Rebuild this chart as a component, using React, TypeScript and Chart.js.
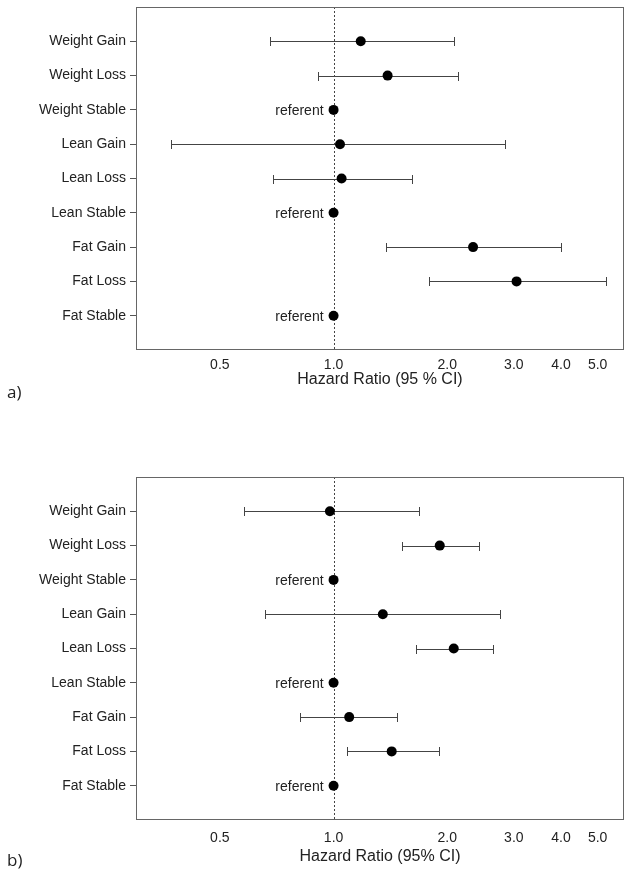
import React, { useEffect, useRef } from "react";
import { Chart, registerables } from "chart.js";
Chart.register(...registerables);

const categories = [
  "Weight Gain", "Weight Loss", "Weight Stable",
  "Lean Gain", "Lean Loss", "Lean Stable",
  "Fat Gain", "Fat Loss", "Fat Stable",
];
const isReferent = [false, false, true, false, false, true, false, false, true];

const hrA = [1.18, 1.39, 1, 1.04, 1.05, 1, 2.34, 3.05, 1];
const lowA = [0.68, 0.91, null, 0.372, 0.693, null, 1.38, 1.79, null];
const highA = [2.08, 2.14, null, 2.84, 1.61, null, 4.0, 5.27, null];

const hrB = [0.978, 1.91, 1, 1.35, 2.08, 1, 1.1, 1.425, 1];
const lowB = [0.579, 1.515, null, 0.659, 1.65, null, 0.813, 1.083, null];
const highB = [1.68, 2.42, null, 2.75, 2.65, null, 1.475, 1.9, null];

const xTicks = [0.5, 1, 2, 3, 4, 5];
const xMin = 0.3;
const xMax = 5.87;

const FONT = "'Liberation Sans', Arial, sans-serif";

type PanelProps = {
  hr: number[];
  low: (number | null)[];
  high: (number | null)[];
  title: string;
  top: number;
  height: number;
  tickPad: number;
  titlePadBottom: number;
};

function ForestPanel(p: PanelProps) {
  const ref = useRef<HTMLCanvasElement | null>(null);
  useEffect(() => {
    const canvas = ref.current;
    if (!canvas) return;
    const n = categories.length;
    const rowY = (i: number) => n - i;

    const forest = {
      id: "forest",
      beforeDatasetsDraw(chart: any) {
        const { ctx, chartArea, scales } = chart;
        const xs = scales.x;
        const ys = scales.y;
        ctx.save();
        const x1 = Math.round(xs.getPixelForValue(1)) + 0.5;
        ctx.strokeStyle = "#444";
        ctx.lineWidth = 1;
        ctx.setLineDash([2, 2]);
        ctx.beginPath();
        ctx.moveTo(x1, chartArea.top);
        ctx.lineTo(x1, chartArea.bottom);
        ctx.stroke();
        ctx.setLineDash([]);
        ctx.strokeStyle = "#444";
        for (let i = 0; i < n; i++) {
          const lo = p.low[i];
          const hi = p.high[i];
          if (lo == null || hi == null) continue;
          const y = Math.round(ys.getPixelForValue(rowY(i))) + 0.5;
          const xl = Math.round(xs.getPixelForValue(lo)) + 0.5;
          const xh = Math.round(xs.getPixelForValue(hi)) + 0.5;
          ctx.beginPath();
          ctx.moveTo(xl, y);
          ctx.lineTo(xh, y);
          ctx.moveTo(xl, y - 4.5);
          ctx.lineTo(xl, y + 4.5);
          ctx.moveTo(xh, y - 4.5);
          ctx.lineTo(xh, y + 4.5);
          ctx.stroke();
        }
        ctx.restore();
      },
      afterDraw(chart: any) {
        const { ctx, chartArea, scales } = chart;
        const xs = scales.x;
        const ys = scales.y;
        ctx.save();
        ctx.strokeStyle = "#666";
        ctx.lineWidth = 1;
        ctx.strokeRect(
          Math.round(chartArea.left) + 0.5,
          Math.round(chartArea.top) + 0.5,
          Math.round(chartArea.right - chartArea.left) - 1,
          Math.round(chartArea.bottom - chartArea.top) - 1
        );
        ctx.fillStyle = "#222";
        ctx.font = "14px " + FONT;
        ctx.textAlign = "right";
        ctx.textBaseline = "middle";
        for (let i = 0; i < n; i++) {
          if (!isReferent[i]) continue;
          const x = xs.getPixelForValue(p.hr[i]) - 10;
          const y = ys.getPixelForValue(rowY(i));
          ctx.fillText("referent", x, y + 1);
        }
        ctx.restore();
      },
    };

    const chart = new Chart(canvas, {
      type: "scatter",
      data: {
        datasets: [
          {
            data: p.hr.map((v, i) => ({ x: v, y: rowY(i) })),
            pointRadius: 5,
            pointHoverRadius: 5,
            backgroundColor: "#000",
            borderWidth: 0,
          },
        ],
      },
      options: {
        responsive: false,
        animation: false,
        devicePixelRatio: 1,
        layout: { padding: { top: 7, right: 13, left: 0, bottom: 0 } },
        plugins: { legend: { display: false }, tooltip: { enabled: false } },
        scales: {
          x: {
            type: "logarithmic",
            min: xMin,
            max: xMax,
            afterBuildTicks: (s: any) => {
              s.ticks = xTicks.map((v) => ({ value: v }));
            },
            afterFit: (s: any) => {
              s.height = p.height - 350;
              s.paddingLeft = 0;
              s.paddingRight = 0;
            },
            grid: { display: false, drawTicks: false },
            border: { display: false },
            ticks: {
              color: "#222",
              font: { size: 14, family: FONT },
              padding: p.tickPad,
              autoSkip: false,
              maxRotation: 0,
              callback: (v: any) => Number(v).toFixed(1),
            },
            title: {
              display: true,
              text: p.title,
              color: "#222",
              font: { size: 16, family: FONT },
              padding: { top: 0, bottom: p.titlePadBottom },
            },
          },
          y: {
            type: "linear",
            min: 0,
            max: n + 1,
            afterBuildTicks: (s: any) => {
              s.ticks = categories.map((_, i) => ({ value: i + 1 }));
            },
            afterFit: (s: any) => {
              s.width = 136;
              s.paddingTop = 0;
              s.paddingBottom = 0;
            },
            grid: {
              display: true,
              drawOnChartArea: false,
              drawTicks: true,
              tickLength: 6,
              color: "#555",
            },
            border: { display: false },
            ticks: {
              color: "#222",
              font: { size: 14, family: FONT },
              padding: 4,
              autoSkip: false,
              callback: (v: any) => {
                const idx = n - Number(v);
                return categories[idx] ?? "";
              },
            },
          },
        },
      },
      plugins: [forest],
    } as any);
    return () => chart.destroy();
  }, []);

  return (
    <div style={{ position: "absolute", left: 0, top: p.top, width: 637, height: p.height }}>
      <canvas ref={ref} width={637} height={p.height} style={{ display: "block" }} />
    </div>
  );
}

const letterStyle: React.CSSProperties = {
  position: "absolute",
  left: 7,
  fontFamily: "'Open Sans', 'Noto Sans', sans-serif",
  fontSize: 17,
  lineHeight: "20px",
  color: "#222",
};

export default function App() {
  return (
    <div style={{ position: "absolute", left: 0, top: 0, width: 637, height: 872, background: "#fff" }}>
      <ForestPanel hr={hrA} low={lowA} high={highA} title="Hazard Ratio (95 % CI)" top={0} height={395} tickPad={7} titlePadBottom={6} />
      <div style={{ ...letterStyle, top: 382 }}>a)</div>
      <ForestPanel hr={hrB} low={lowB} high={highB} title="Hazard Ratio (95% CI)" top={470} height={400} tickPad={10} titlePadBottom={4} />
      <div style={{ ...letterStyle, top: 850 }}>b)</div>
    </div>
  );
}
